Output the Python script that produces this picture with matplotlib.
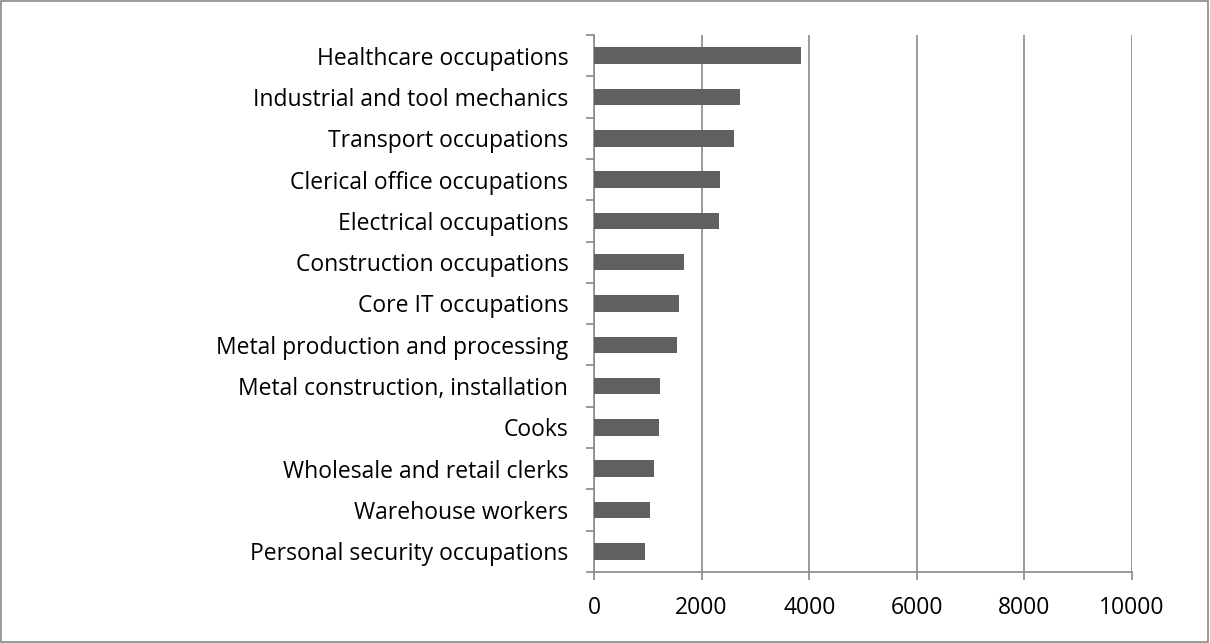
import matplotlib.pyplot as plt
from matplotlib.patches import Rectangle
import numpy as np

occupations = [
    'Healthcare occupations',
    'Industrial and tool mechanics',
    'Transport occupations',
    'Clerical office occupations',
    'Electrical occupations',
    'Construction occupations',
    'Core IT occupations',
    'Metal production and processing',
    'Metal construction, installation',
    'Cooks',
    'Wholesale and retail clerks',
    'Warehouse workers',
    'Personal security occupations',
]
values = [3845, 2715, 2610, 2335, 2320, 1665, 1585, 1545, 1235, 1200, 1110, 1040, 955]
x_ticks = [0, 2000, 4000, 6000, 8000, 10000]

plt.rcParams['font.family'] = ['Open Sans', 'DejaVu Sans']

fig = plt.figure(figsize=(12.1, 6.43), dpi=100)
ax = fig.add_axes([594 / 1210, 1 - 572 / 643, 538 / 1210, (572 - 35) / 643])

grey = '#898989'
n = len(occupations)
ypos = np.arange(n)[::-1]
ax.barh(ypos, values, height=0.4, color='#606060', zorder=3)

ax.set_xlim(0, 10000)
ax.set_ylim(-0.5, n - 0.5)
ax.set_xticks(x_ticks)
ax.set_xticklabels([str(t) for t in x_ticks], fontsize=16.5)
ax.set_yticks(ypos)
ax.set_yticklabels(occupations, fontsize=16.5)
ax.set_yticks(np.arange(-0.5, n, 1.0), minor=True)
ax.tick_params(axis='y', which='major', length=0, pad=18.5)
ax.tick_params(axis='y', which='minor', length=6, color=grey, width=1.2)
ax.tick_params(axis='x', length=6, color=grey, width=1.2, pad=11)

ax.grid(axis='x', color=grey, linewidth=1.2, zorder=0)
for side in ['top', 'right']:
    ax.spines[side].set_visible(False)
for side in ['left', 'bottom']:
    ax.spines[side].set_color(grey)
    ax.spines[side].set_linewidth(1.2)

fig.patches.append(Rectangle((0.001, 0.002), 0.997, 0.996, transform=fig.transFigure,
                             fill=False, edgecolor=grey, linewidth=1.2))

fig.savefig('out.png', dpi=100)
